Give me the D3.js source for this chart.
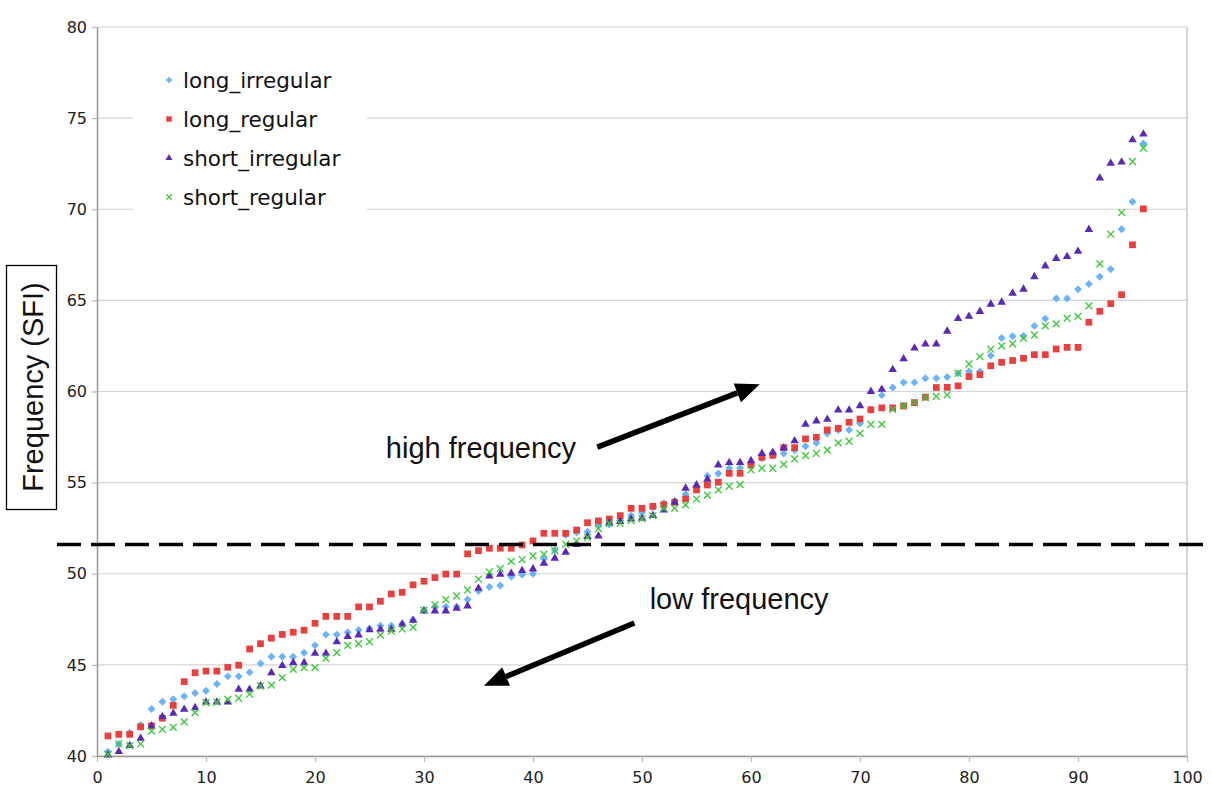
<!DOCTYPE html>
<html>
<head>
<meta charset="utf-8">
<script src="https://cdn.jsdelivr.net/npm/d3@7"></script>
<style>
  body { margin: 0; background: #fff; }
  svg { display: block; }
</style>
</head>
<body>
<div id="chart"></div>
<script>
// chart size
var svgWidth = 1212;
var svgHeight = 803;

var margin = { top: 27, right: 25, bottom: 47, left: 97 };
var width = svgWidth - margin.left - margin.right;
var height = svgHeight - margin.top - margin.bottom;

// rank of each sample (x) and its frequency (SFI) per condition
var ranks = d3.range(1, 97);

var longIrregular = [40.24, 40.66, 41.28, 41.7, 42.58, 42.98, 43.11, 43.28, 43.46, 43.58,
    43.95, 44.37, 44.37, 44.59, 45.08, 45.45, 45.45, 45.45, 45.67, 46.07,
    46.66, 46.66, 46.79, 46.92, 47.0, 47.15, 47.15, 47.24, 47.46, 48.0,
    48.19, 48.19, 48.19, 48.59, 49.05, 49.27, 49.36, 49.84, 49.95, 50.0,
    50.81, 51.3, 52.13, 52.26, 52.3, 52.66, 52.7, 52.92, 53.19, 53.36,
    53.65, 53.87, 54.0, 54.36, 54.75, 55.37, 55.5, 55.79, 55.8, 55.97,
    56.33, 56.48, 56.6, 56.78, 57.0, 57.18, 57.7, 57.89, 57.89, 58.25,
    59.0, 59.8, 60.22, 60.5, 60.5, 60.73, 60.73, 60.8, 61.0, 61.1,
    61.1, 61.97, 62.94, 63.03, 63.05, 63.6, 64.0, 65.1, 65.1, 65.61,
    65.9, 66.3, 66.71, 68.9, 70.41, 73.61];

var longRegular = [41.1, 41.19, 41.19, 41.6, 41.65, 42.07, 42.78, 44.08, 44.57, 44.66,
    44.66, 44.87, 44.98, 45.87, 46.16, 46.47, 46.67, 46.79, 46.9, 47.28,
    47.66, 47.66, 47.66, 48.18, 48.18, 48.49, 48.89, 48.98, 49.39, 49.59,
    49.79, 49.98, 49.98, 51.09, 51.27, 51.4, 51.4, 51.4, 51.58, 51.8,
    52.22, 52.22, 52.22, 52.4, 52.8, 52.9, 53.0, 53.19, 53.59, 53.59,
    53.7, 53.79, 53.92, 54.1, 54.6, 54.87, 55.02, 55.51, 55.51, 55.97,
    56.39, 56.5, 56.92, 56.92, 57.4, 57.49, 57.89, 57.98, 58.31, 58.49,
    59.0, 59.1, 59.1, 59.21, 59.39, 59.69, 60.22, 60.23, 60.31, 60.82,
    60.92, 61.41, 61.6, 61.7, 61.82, 62.02, 62.02, 62.33, 62.42, 62.42,
    63.8, 64.4, 64.82, 65.31, 68.05, 70.02];

var shortIrregular = [40.05, 40.24, 40.57, 40.97, 41.65, 42.16, 42.34, 42.56, 42.65, 42.96,
    42.96, 42.96, 43.66, 43.66, 43.84, 44.56, 44.96, 45.12, 45.12, 45.63,
    45.63, 46.26, 46.55, 46.64, 46.92, 46.95, 46.95, 47.24, 47.44, 47.96,
    47.96, 47.96, 48.1, 48.23, 49.2, 49.88, 49.97, 50.02, 50.17, 50.26,
    50.57, 50.85, 51.18, 51.6, 52.04, 52.07, 52.8, 52.86, 53.0, 53.04,
    53.19, 53.5, 53.92, 54.69, 54.87, 55.18, 55.97, 56.1, 56.1, 56.2,
    56.6, 56.66, 56.9, 57.29, 58.2, 58.38, 58.47, 58.98, 58.98, 59.21,
    60.0, 60.12, 61.2, 61.79, 62.38, 62.6, 62.6, 63.31, 64.0, 64.12,
    64.39, 64.79, 64.9, 65.39, 65.61, 66.3, 66.89, 67.3, 67.4, 67.69,
    68.89, 71.71, 72.52, 72.59, 73.81, 74.12];

var shortRegular = [40.09, 40.66, 40.57, 40.66, 41.37, 41.46, 41.57, 41.87, 42.38, 42.93,
    42.96, 43.11, 43.17, 43.39, 43.84, 43.89, 44.3, 44.76, 44.85, 44.85,
    45.36, 45.67, 46.07, 46.16, 46.27, 46.64, 46.86, 46.97, 47.06, 48.0,
    48.29, 48.58, 48.78, 49.11, 49.7, 50.1, 50.28, 50.68, 50.78, 50.98,
    51.07, 51.27, 51.62, 51.8, 52.0, 52.48, 52.77, 52.76, 52.92, 53.03,
    53.19, 53.59, 53.59, 53.78, 54.1, 54.31, 54.6, 54.8, 54.89, 55.7,
    55.79, 55.79, 56.0, 56.3, 56.48, 56.6, 56.78, 57.18, 57.27, 57.7,
    58.2, 58.2, 59.02, 59.21, 59.39, 59.67, 59.73, 59.82, 61.0, 61.51,
    61.91, 62.32, 62.5, 62.61, 62.92, 63.1, 63.6, 63.71, 64.02, 64.12,
    64.7, 67.0, 68.63, 69.82, 72.62, 73.36];

var seriesNames = ["long_irregular", "long_regular", "short_irregular", "short_regular"];
var seriesValues = [longIrregular, longRegular, shortIrregular, shortRegular];

var xTicks = [0, 10, 20, 30, 40, 50, 60, 70, 80, 90, 100];
var yTicks = [40, 45, 50, 55, 60, 65, 70, 75, 80];

// split between low and high frequency
var threshold = 51.6;

// annotation arrows, in data units
var arrows = [
    { label: "high frequency", tx: 26.5, ty: 56.35, x1: 45.9, y1: 56.95, x2: 60.8, y2: 60.4 },
    { label: "low frequency", tx: 50.7, ty: 48.05, x1: 49.3, y1: 47.3, x2: 35.5, y2: 43.85 }
];

// marker look per series
var styles = [
    { color: "#6cb4f7", symbol: d3.symbolDiamond2, size: 40 },
    { color: "#e8403f", symbol: d3.symbolSquare2, size: 58 },
    { color: "#5a2ab2", symbol: d3.symbolTriangle2, size: 52 },
    { color: "#3fc93f", symbol: d3.symbolX, size: 32, stroke: true }
];

var svg = d3.select("#chart")
    .append("svg")
    .attr("width", svgWidth)
    .attr("height", svgHeight);

var chartGroup = svg.append("g")
    .attr("transform", `translate(${margin.left}, ${margin.top})`);

var xLinearScale = d3.scaleLinear().domain([0, 100]).range([0, width]);
var yLinearScale = d3.scaleLinear().domain([40, 80]).range([height, 0]);

// horizontal gridlines
chartGroup.append("g")
    .selectAll("line")
    .data(yTicks)
    .enter()
    .append("line")
    .attr("x1", 0)
    .attr("x2", width)
    .attr("y1", d => yLinearScale(d))
    .attr("y2", d => yLinearScale(d))
    .attr("stroke", "#d4d4d4")
    .attr("stroke-width", 1.2);

// right frame
chartGroup.append("line")
    .attr("x1", width).attr("x2", width)
    .attr("y1", 0).attr("y2", height)
    .attr("stroke", "#c8c8c8")
    .attr("stroke-width", 1.5);

// axes
var bottomAxis = d3.axisBottom(xLinearScale).tickValues(xTicks).tickSize(6).tickSizeOuter(0);
var leftAxis = d3.axisLeft(yLinearScale).tickValues(yTicks).tickSize(5).tickSizeOuter(0);

var xAxis = chartGroup.append("g")
    .attr("transform", `translate(0, ${height})`)
    .call(bottomAxis);

var yAxis = chartGroup.append("g")
    .call(leftAxis);

[xAxis, yAxis].forEach(axis => {
    axis.select(".domain").attr("stroke", "#999").attr("stroke-width", 1.5);
    axis.selectAll(".tick line").attr("stroke", "#bbb").attr("stroke-width", 1.2);
    axis.selectAll(".tick text")
        .attr("fill", "#222")
        .style("font-family", "'DejaVu Sans', Verdana, sans-serif")
        .style("font-size", "16px");
});
xAxis.selectAll(".tick text").attr("dy", "1.15em");
yAxis.selectAll(".tick text").attr("x", -10);

// points
seriesValues.forEach((values, s) => {
    var st = styles[s];
    var sym = d3.symbol().type(st.symbol).size(st.size);
    chartGroup.append("g")
        .selectAll("path")
        .data(values)
        .enter()
        .append("path")
        .attr("transform", (d, i) => `translate(${xLinearScale(ranks[i])}, ${yLinearScale(d)})`)
        .attr("d", sym)
        .attr("fill", st.stroke ? "none" : st.color)
        .attr("stroke", st.stroke ? st.color : "none")
        .attr("stroke-width", st.stroke ? 1.4 : 0);
});

// legend
var legend = chartGroup.append("g").attr("transform", "translate(36, 31)");
legend.append("rect")
    .attr("width", 234)
    .attr("height", 155)
    .attr("fill", "#fff");
seriesNames.forEach((name, s) => {
    var st = styles[s];
    var row = legend.append("g").attr("transform", `translate(36, ${22 + s * 39})`);
    row.append("path")
        .attr("d", d3.symbol().type(st.symbol).size(st.size * 0.65))
        .attr("fill", st.stroke ? "none" : st.color)
        .attr("stroke", st.stroke ? st.color : "none")
        .attr("stroke-width", st.stroke ? 1.2 : 0);
    row.append("text")
        .attr("x", 14)
        .attr("y", 0)
        .attr("dy", "0.35em")
        .attr("fill", "#111")
        .style("font-family", "'DejaVu Sans', Verdana, sans-serif")
        .style("font-size", "21.5px")
        .text(name);
});

// threshold dashed line
svg.append("line")
    .attr("x1", 57)
    .attr("x2", svgWidth)
    .attr("y1", margin.top + yLinearScale(threshold))
    .attr("y2", margin.top + yLinearScale(threshold))
    .attr("stroke", "#000")
    .attr("stroke-width", 3.5)
    .attr("stroke-dasharray", "24,10");

// arrows and labels
arrows.forEach(a => {
    var x1 = xLinearScale(a.x1), y1 = yLinearScale(a.y1);
    var x2 = xLinearScale(a.x2), y2 = yLinearScale(a.y2);
    var ang = Math.atan2(y2 - y1, x2 - x1);
    var headLen = 24, headW = 10;
    var bx = x2 - headLen * Math.cos(ang), by = y2 - headLen * Math.sin(ang);
    chartGroup.append("line")
        .attr("x1", x1).attr("y1", y1)
        .attr("x2", bx).attr("y2", by)
        .attr("stroke", "#000")
        .attr("stroke-width", 5.5);
    chartGroup.append("polygon")
        .attr("points", [
            [x2, y2],
            [bx + headW * Math.sin(ang), by - headW * Math.cos(ang)],
            [bx - headW * Math.sin(ang), by + headW * Math.cos(ang)]
        ].map(p => p.join(",")).join(" "))
        .attr("fill", "#000");
    chartGroup.append("text")
        .attr("x", xLinearScale(a.tx))
        .attr("y", yLinearScale(a.ty))
        .attr("fill", "#111")
        .style("font-family", "'Liberation Sans', Arial, sans-serif")
        .style("font-size", "29px")
        .text(a.label);
});

// y axis label in a box
svg.append("rect")
    .attr("x", 6.5)
    .attr("y", 265.5)
    .attr("width", 50)
    .attr("height", 244)
    .attr("fill", "#fff")
    .attr("stroke", "#000")
    .attr("stroke-width", 1.3);
svg.append("text")
    .attr("transform", "translate(33, 387) rotate(-90)")
    .attr("text-anchor", "middle")
    .attr("dy", "0.35em")
    .attr("fill", "#111")
    .style("font-family", "'Liberation Sans', Arial, sans-serif")
    .style("font-size", "29px")
    .text("Frequency (SFI)");
</script>
</body>
</html>
